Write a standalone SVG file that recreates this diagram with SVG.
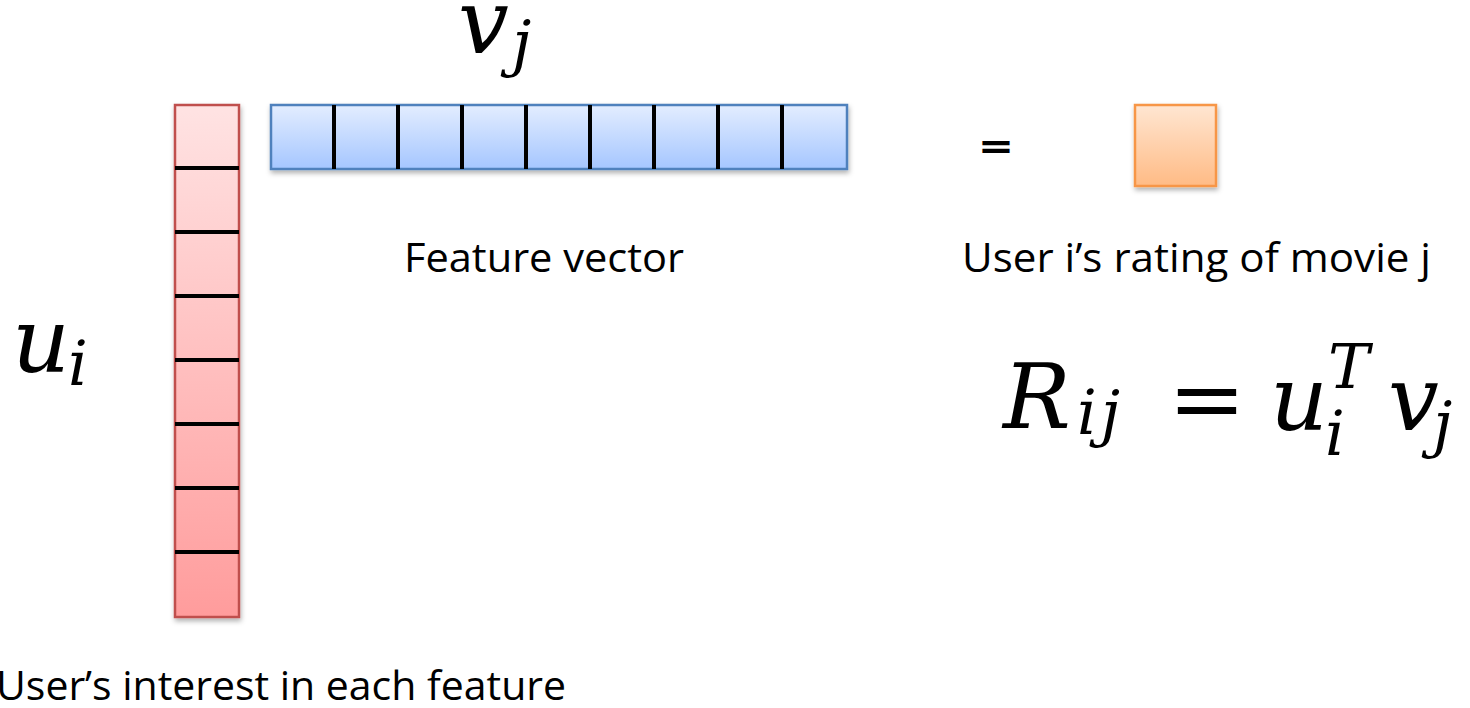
<svg xmlns="http://www.w3.org/2000/svg" width="1470" height="708" viewBox="0 0 1470 708">
<defs>
<linearGradient id="gRed" x1="0" y1="0" x2="0" y2="1"><stop offset="0" stop-color="#FFE3E3"/><stop offset="1" stop-color="#FF9C9C"/></linearGradient>
<linearGradient id="gBlue" x1="0" y1="0" x2="0" y2="1"><stop offset="0" stop-color="#E3EDFF"/><stop offset="1" stop-color="#A5C6FF"/></linearGradient>
<linearGradient id="gOrange" x1="0" y1="0" x2="0" y2="1"><stop offset="0" stop-color="#FFE6D2"/><stop offset="1" stop-color="#FFBB85"/></linearGradient>
<filter id="shadow" x="-20%" y="-20%" width="140%" height="140%"><feDropShadow dx="1" dy="3" stdDeviation="2.5" flood-color="#000" flood-opacity="0.3"/></filter>
</defs>
<style>
.div{stroke:#000;stroke-width:4}
.lbl{font-family:"Open Sans","Liberation Sans",sans-serif;font-size:40px;fill:#000}
.math{font-family:"DejaVu Serif",serif;font-style:italic;fill:#000}
.big{font-size:90px}
.sub{font-size:62px}
</style>
<rect width="1470" height="708" fill="#fff"/>

<g id="user-vector">
<rect x="175" y="105" width="64" height="512" fill="url(#gRed)" stroke="#C0504D" stroke-width="2.5" filter="url(#shadow)"/>
<line class="div" x1="175" y1="168" x2="239" y2="168"/>
<line class="div" x1="175" y1="232" x2="239" y2="232"/>
<line class="div" x1="175" y1="296" x2="239" y2="296"/>
<line class="div" x1="175" y1="360" x2="239" y2="360"/>
<line class="div" x1="175" y1="424" x2="239" y2="424"/>
<line class="div" x1="175" y1="488" x2="239" y2="488"/>
<line class="div" x1="175" y1="552" x2="239" y2="552"/>
</g>

<g id="feature-vector">
<rect x="271" y="105" width="576" height="64" fill="url(#gBlue)" stroke="#4F81BD" stroke-width="2.5" filter="url(#shadow)"/>
<line class="div" x1="334" y1="105" x2="334" y2="169"/>
<line class="div" x1="398" y1="105" x2="398" y2="169"/>
<line class="div" x1="462" y1="105" x2="462" y2="169"/>
<line class="div" x1="526" y1="105" x2="526" y2="169"/>
<line class="div" x1="590" y1="105" x2="590" y2="169"/>
<line class="div" x1="654" y1="105" x2="654" y2="169"/>
<line class="div" x1="718" y1="105" x2="718" y2="169"/>
<line class="div" x1="782" y1="105" x2="782" y2="169"/>
</g>

<g id="rating">
<rect x="1135" y="105" width="81" height="81" fill="url(#gOrange)" stroke="#F79646" stroke-width="2.5" filter="url(#shadow)"/>
</g>

<g id="equals">
<text class="lbl" x="980" y="161" font-size="58" font-weight="bold" textLength="32" lengthAdjust="spacingAndGlyphs">=</text>
</g>

<g id="labels">
<text class="lbl" x="404" y="272" textLength="280" lengthAdjust="spacingAndGlyphs">Feature vector</text>
<text class="lbl" x="962" y="272" textLength="469" lengthAdjust="spacingAndGlyphs">User i’s rating of movie j</text>
<text class="lbl" x="-4" y="700" textLength="570" lengthAdjust="spacingAndGlyphs">User’s interest in each feature</text>
</g>

<g id="vj-label">
<text class="math big" x="458" y="53">v</text>
<text class="math sub" x="512" y="64">j</text>
</g>

<g id="ui-label">
<text class="math big" x="12" y="372">u</text>
<text class="math sub" x="68" y="385">i</text>
</g>

<g id="formula">
<text class="math big" x="1003" y="428">R</text>
<text class="math sub" x="1077" y="434" letter-spacing="4">ij</text>
<text class="math big" x="1168" y="430" font-style="normal" textLength="78" lengthAdjust="spacingAndGlyphs">=</text>
<text class="math big" x="1270" y="430">u</text>
<text class="math sub" x="1328" y="388">T</text>
<text class="math sub" x="1325" y="455">i</text>
<text class="math big" x="1388" y="430">v</text>
<text class="math sub" x="1433" y="445">j</text>
</g>
</svg>
